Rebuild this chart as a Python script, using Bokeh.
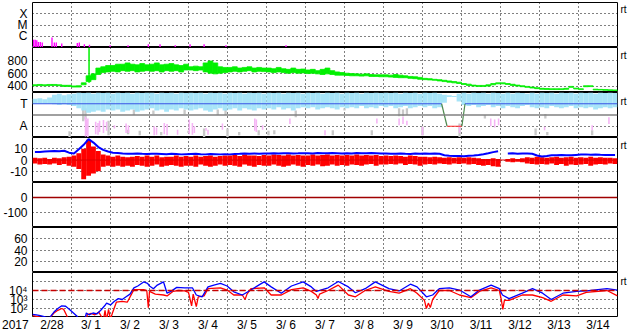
import math
from bokeh.plotting import figure
from bokeh.layouts import column
from bokeh.models import FixedTicker, LinearAxis, Span, Range1d, Grid
from bokeh.core.properties import value
from bokeh.embed import file_html
from bokeh.resources import INLINE

FONT = "Liberation Sans"
NAN = float("nan")

# ---------------- time axis ----------------
day_lines = list(range(1, 15))
date_ticks = [i + 0.5 for i in range(15)]
date_labels = ["2/28", "3/ 1", "3/ 2", "3/ 3", "3/ 4", "3/ 5", "3/ 6", "3/ 7",
               "3/ 8", "3/ 9", "3/10", "3/11", "3/12", "3/13", "3/14"]
year_label = "2017"
year_pos = -0.44
BIN = 0.125  # 3-hour bins
bins = [(i + 0.5) * BIN for i in range(120)]

# ---------------- panel 1: X-ray flux (log10 W/m2) ----------------
xray_levels = [-4, -5, -6]
xray_names = ["X", "M", "C"]
xray = [(0.03, -6.3), (0.07, -6.3), (0.11, -6.35), (0.15, -6.5), (0.2, -6.5), (0.25, -6.55),
        (0.5, -6.1), (0.56, -6.55), (0.61, -6.55), (0.75, -6.65), (1.15, -6.6), (1.2, -6.55),
        (1.33, -6.7), (1.46, -6.75), (1.99, -6.8), (2.45, -6.8), (2.97, -6.7), (3.27, -6.7),
        (3.66, -6.8), (4.04, -6.7), (4.4, -6.7), (4.96, -6.8), (6.5, -6.8)]

# ---------------- panel 2: solar wind speed (km/s), 3-h min / max ----------------
speed_lo = [405, 410, 405, 408, 410, 405, 395, 395,
            385, 385, 420, 470, 500, 580, 610, 620,
            630, 620, 640, 630, 640, 620, 630, 640,
            630, 640, 620, 640, 630, 640, 620, 650,
            650, 640, 650, 620, 600, 590, 600, 610,
            620, 630, 620, 630, 640, 620, 630, 625,
            620, 610, 620, 610, 600, 610, 600, 605,
            595, 600, 590, 580, 590, 580, 570, 570,
            565, 560, 560, 555, 560, 550, 550, 545,
            545, 540, 535, 530, 530, 520, 515, 505,
            500, 495, 490, 480, 470, 460, 450, 440,
            425, 410, 400, 395, 395, 400, 420, 435,
            435, 425, 410, 400, 390, 380, 370, 360,
            350, 348, 345, 345, 345, 350, 380, 355,
            345, 390, 392, 340, 338, 335, 332, 330]
speed_hi = [420, 425, 420, 425, 425, 420, 412, 412,
            402, 405, 450, 560, 590, 680, 700, 720,
            720, 740, 740, 760, 740, 730, 750, 730,
            740, 760, 730, 740, 750, 730, 720, 740,
            700, 710, 700, 760, 790, 760, 700, 690,
            690, 700, 680, 690, 700, 680, 690, 680,
            680, 670, 690, 670, 660, 680, 660, 665,
            650, 660, 640, 660, 680, 640, 620, 610,
            600, 595, 590, 585, 590, 580, 575, 575,
            575, 570, 580, 570, 560, 550, 545, 535,
            520, 515, 505, 500, 490, 480, 470, 460,
            440, 430, 415, 410, 410, 420, 440, 450,
            450, 440, 428, 415, 405, 395, 385, 375,
            365, 362, 358, 358, 358, 365, 395, 368,
            358, 405, 405, 352, 348, 345, 342, 340]
speed_spike_day = [1.45]
speed_spike_lo = [450]
speed_spike_hi = [1000]
speed_levels = [800, 600, 400]
speed_label_pos = [800, 600, 415]

# ---------------- panel 3: T / A indices (panel units 0..4) ----------------
ta_levels = [3, 1]
ta_names = ["T", "A"]
cloud_lo = [3.0, 3.0, 3.0, 3.0, 2.95, 2.9, 2.95, 2.9,
            2.8, 2.6, 2.4, 2.2, 2.3, 2.4, 2.3, 2.5,
            2.4, 2.5, 2.3, 2.4, 2.5, 2.3, 2.4, 2.5,
            2.6, 2.4, 2.5, 2.3, 2.5, 2.4, 2.6, 2.5,
            2.4, 2.5, 2.6, 2.4, 2.3, 2.5, 2.6, 2.4,
            2.5, 2.6, 2.4, 2.6, 2.5, 2.4, 2.6, 2.5,
            2.6, 2.5, 2.7, 2.5, 2.6, 2.4, 2.6, 2.7,
            2.6, 2.7, 2.5, 2.6, 2.7, 2.6, 2.5, 2.7,
            2.6, 2.7, 2.6, 2.8, 2.6, 2.7, 2.6, 2.8,
            2.7, 2.8, 2.6, 2.7, 2.8, 2.6, 2.7, 2.8,
            2.7, 2.8, 2.6, 2.7, 3.1, 3.6, 3.6, 3.2,
            2.9, 2.8, 2.9, 2.7, 2.8, 2.9, 2.7, 2.8,
            2.6, 2.8, 2.7, 2.6, 2.8, 2.9, 2.7, 2.6,
            2.7, 2.6, 2.8, 2.7, 2.6, 2.7, 2.8, 2.6,
            2.7, 2.6, 2.7, 2.5, 2.6, 2.7, 2.6, 2.7]
cloud_hi = [3.45, 3.5, 3.4, 3.55, 3.8, 3.9, 3.75, 3.85,
            3.9, 4.0, 3.95, 4.0, 3.9, 4.0, 3.95, 4.0,
            3.9, 4.0, 3.95, 4.0, 3.9, 4.0, 3.95, 4.0,
            4.0, 3.9, 4.0, 3.95, 4.0, 3.9, 4.0, 3.95,
            4.0, 3.95, 4.0, 3.9, 4.0, 3.95, 4.0, 3.9,
            4.0, 3.95, 4.0, 3.9, 4.0, 3.95, 4.0, 3.9,
            4.0, 3.95, 4.0, 3.9, 4.0, 3.95, 4.0, 3.9,
            4.0, 3.95, 4.0, 3.9, 4.0, 3.95, 4.0, 3.9,
            4.0, 3.95, 4.0, 3.9, 4.0, 3.95, 4.0, 3.95,
            4.0, 3.95, 4.0, 3.9, 4.0, 3.95, 4.0, 3.9,
            4.0, 3.95, 4.0, 3.9, 3.8, 3.75, 3.7, 3.9,
            4.0, 3.9, 4.0, 3.95, 4.0, 3.9, 4.0, 3.95,
            3.9, 4.0, 3.9, 4.0, 3.95, 3.9, 4.0, 3.9,
            4.0, 3.95, 4.0, 3.9, 4.0, 3.95, 4.0, 3.9,
            4.0, 3.95, 4.0, 3.9, 4.0, 3.95, 4.0, 3.95]
gray_streaks = [(0.95, 0.0, 0.55), (1.3, 1.45, 2.8), (1.36, 1.6, 2.6), (1.95, 0.2, 1.5),
                (2.45, 0.3, 0.7), (2.6, 2.0, 2.5), (2.75, 0.2, 0.6), (3.1, 2.1, 2.4),
                (3.3, 0.2, 0.5), (3.9, 2.1, 2.5), (4.0, 0.4, 0.6), (4.4, 0.0, 0.8),
                (4.75, 2.0, 2.5), (4.95, 2.0, 2.6), (5.0, 0.05, 0.8), (5.3, 0.2, 0.5),
                (5.8, 0.2, 0.65), (6.05, 0.2, 0.6), (6.2, 0.3, 0.65), (6.75, 1.8, 2.4),
                (7.7, 0.2, 0.65), (8.0, 2.4, 2.6), (8.7, 0.2, 0.65), (9.4, 1.9, 2.6),
                (9.5, 1.9, 2.5), (9.6, 2.0, 2.6), (10.0, 0.2, 0.95), (10.95, 0.05, 1.25),
                (11.6, 1.7, 2.0), (12.9, 0.2, 0.8), (13.15, 1.7, 2.1), (13.2, 0.2, 0.5),
                (14.35, 0.2, 0.65)]
pink_streaks = [(1.36, 0.1, 1.85), (1.39, 0.2, 1.6), (1.42, 0.05, 1.7), (1.62, 0.3, 1.4),
                (1.68, 0.25, 1.3), (1.72, 0.5, 1.5), (1.82, 0.4, 1.55), (1.9, 0.6, 1.4),
                (2.1, 0.8, 1.1), (2.4, 0.4, 1.25), (2.46, 0.4, 1.1), (3.12, 0.2, 1.0),
                (3.18, 0.25, 0.9), (3.38, 0.3, 1.3), (3.45, 0.2, 1.2), (3.72, 0.25, 0.7),
                (4.02, 0.3, 1.6), (4.1, 0.25, 1.3), (4.15, 0.4, 1.0), (4.45, 0.6, 0.85),
                (4.5, 0.25, 0.7), (4.87, 0.7, 1.25), (5.7, 0.6, 1.7), (5.74, 0.5, 1.6),
                (5.9, 0.7, 1.1), (6.6, 1.2, 1.7), (7.5, 0.2, 0.65), (8.83, 1.25, 1.7),
                (9.4, 1.1, 1.7), (9.5, 1.2, 1.85), (9.6, 1.1, 1.5), (10.0, 0.2, 0.95),
                (10.95, 0.4, 1.1), (11.75, 1.0, 1.7), (11.85, 0.9, 1.6), (11.95, 1.1, 1.7),
                (13.13, 0.65, 0.95), (14.35, 0.65, 1.1), (14.78, 1.2, 1.8)]
status_day = [0, 10.49, 10.63, 11.01, 11.09, 15]
status_level = [3, 3, 1, 1, 3, 3]
status_color = ["#3a55e6", "#4f8a4f", "#ff2a2a", "#4f8a4f", "#3a55e6"]
ta_mid_level = 2

# ---------------- panel 4: IMF Bt / Bz (nT) ----------------
imf_levels = [10, 0, -10]
bz_lo = [-3, -4, -3.5, -4, -3, -4.5, -3.5, -5,
         -6, -8, -17, -14, -12, -10, -6, -5,
         -6, -5, -6, -5, -6, -4.5, -5, -6,
         -5, -4, -6, -5, -4.5, -5, -6, -5,
         -5, -6, -4, -5, -6, -5, -4, -5,
         -4.5, -5, -6, -4, -5, -6, -4.5, -5,
         -5, -4, -5, -6, -5, -4, -5, -6,
         -4.5, -5, -4, -5.5, -5, -4, -5, -4.5,
         -5, -4, -4.5, -5, -4, -3.5, -5, -4,
         -4, -3.5, -4, -3, -4.5, -3.5, -4, -5,
         -4, -3.5, -4, -3, -3.5, -4, -3, -3.5,
         -3, -4, -3.5, -4.5, -5, -4.5, -5.5, -6,
         NAN, -1.5, -2, -1.5, -2, -3, -3.5, -4,
         -3.5, -4, -3, -4.5, -3.5, -5, -4, -4.5,
         -4, -3.5, -5, -4, -3.5, -4, -3, -3.5]
bz_hi = [2, 1.5, 2, 1, 2, 1.5, 2.5, 3,
         4, 6, 10, 18, 12, 8, 5, 4,
         3, 4, 3, 2.5, 3, 3.5, 3, 4,
         3, 4, 2.5, 3, 3, 4, 3, 3.5,
         3, 4, 3, 3.5, 4, 3, 3.5, 4,
         4, 4.5, 3.5, 5, 4, 4, 3.5, 4.5,
         4, 5, 4.5, 4, 5, 4, 4.5, 4,
         4, 5, 4, 4.5, 5, 4, 4.5, 4,
         4.5, 4, 5, 4, 4.5, 4, 4.5, 3.5,
         4, 3.5, 4, 3.5, 3, 4, 3.5, 3,
         3, 2.5, 3, 2.5, 2, 2.5, 2, 2.5,
         2, 2.5, 2, 1.5, 1, 1, 1.5, 1,
         NAN, 1, 1.5, 1, 1.5, 2.5, 2, 3,
         2.5, 2, 2.5, 3, 2, 2.5, 3, 2,
         2.5, 2, 3, 2, 2.5, 2, 2, 1.5]
bt = [7.2, 7.2, 7.5, 7.8, 8.0, 7.8, 8.2, 6.5,
      5.8, 9.5, 13.5, 18.5, 15.5, 11.5, 9.0, 7.5,
      6.5, 6.2, 5.8, 5.6, 5.5, 5.8, 5.5, 5.4,
      5.5, 5.6, 5.4, 5.2, 5.5, 5.3, 5.0, 5.2,
      5.4, 5.5, 5.2, 5.0, 5.3, 5.2, 5.0, 5.2,
      5.0, 5.4, 5.5, 5.8, 5.6, 5.8, 5.5, 5.8,
      5.8, 6.0, 5.7, 5.9, 6.0, 5.8, 5.9, 6.1,
      6.0, 5.8, 6.2, 6.0, 5.9, 6.2, 6.0, 5.8,
      6.0, 5.8, 6.2, 6.0, 5.9, 6.2, 6.0, 5.8,
      5.8, 5.5, 5.6, 5.8, 5.5, 5.4, 5.8, 5.5,
      5.8, 5.6, 5.8, 5.5, 4.2, 3.8, 3.5, 3.6,
      3.4, 3.8, 4.0, 4.5, 5.2, 6.0, 7.0, 7.8,
      NAN, 5.8, 5.9, 5.6, 5.8, 5.7, 5.5, 4.0,
      3.2, 3.5, 4.3, 4.2, 4.4, 4.3, 4.2, 4.5,
      4.8, 5.0, 4.7, 4.8, 4.6, 4.5, 4.4, 4.5]

# ---------------- panel 5: Dst (nT) ----------------
dst_levels = [0, -100]
dst_day = [0, 15]
dst = [0, 0]

# ---------------- panel 6: empty index panel ----------------
idx_levels = [60, 40, 20]

# ---------------- panel 7: electron flux (log10) ----------------
e_levels = [4, 3, 2]
e_names = ["10\u2074", "10\u00b3", "10\u00b2"]
e_grid = [2, 3, 4, 5]
e_threshold = 4
e_blue = [(0.0, 1.35), (0.1, 1.3), (0.2, 1.2), (0.3, 1.1), (0.37, 1.0), (0.45, 1.05), (0.55, 1.6),
          (0.65, 2.0), (0.75, 2.3), (0.85, 2.25), (0.95, 1.9), (1.05, 1.5), (1.15, 1.1), (1.2, 0.5),
          (1.33, 0.5), (1.38, 1.5), (1.45, 1.3), (1.55, 1.5), (1.65, 1.4), (1.75, 1.8), (1.85, 2.3),
          (1.9, 2.6), (2.0, 2.4), (2.1, 2.8), (2.2, 3.1), (2.3, 3.0), (2.4, 3.3), (2.5, 3.6),
          (2.6, 4.3), (2.7, 4.5), (2.85, 4.95), (2.95, 4.8), (3.0, 4.5), (3.1, 4.2), (3.2, 4.6),
          (3.36, 4.95), (3.45, 3.7), (3.55, 3.9), (3.7, 4.35), (3.9, 4.3), (4.1, 4.3), (4.2, 3.5),
          (4.35, 3.3), (4.5, 4.4), (4.65, 4.6), (4.82, 4.78), (4.99, 4.5), (5.16, 3.85), (5.38, 3.5),
          (5.6, 4.05), (5.8, 4.6), (5.94, 4.96), (6.12, 4.4), (6.38, 3.7), (6.64, 4.5), (6.94, 4.96),
          (7.15, 4.4), (7.28, 3.9), (7.58, 4.3), (7.84, 5.0), (8.1, 4.4), (8.28, 3.75), (8.53, 4.2),
          (8.79, 4.96), (9.14, 4.2), (9.4, 3.95), (9.69, 4.7), (9.86, 4.4), (10.1, 3.3), (10.26, 3.5),
          (10.43, 4.2), (10.69, 4.3), (10.95, 4.05), (11.24, 3.3), (11.46, 4.05), (11.76, 4.6),
          (11.97, 4.2), (12.05, 3.5), (12.22, 3.1), (12.56, 3.7), (12.82, 4.2), (13.08, 3.7),
          (13.3, 3.0), (13.6, 3.7), (13.95, 3.9), (14.2, 3.95), (14.73, 4.2), (15.0, 4.05)]
e_red = [(0.0, 1.2), (0.2, 1.05), (0.35, 0.8), (0.45, 1.0), (0.55, 1.5), (0.65, 1.8), (0.75, 2.0),
         (0.8, 1.9), (0.88, 1.2), (0.92, 0.5), (1.38, 0.5), (1.4, 1.3), (1.5, 1.45), (1.6, 1.3),
         (1.7, 1.6), (1.78, 1.0), (1.82, 0.7), (1.86, 1.8), (1.9, 0.7), (1.95, 1.9), (2.0, 0.8),
         (2.05, 1.5), (2.15, 2.7), (2.3, 2.8), (2.43, 2.7), (2.6, 4.1), (2.85, 4.1), (2.93, 4.0),
         (2.97, 2.1), (3.0, 3.9), (3.15, 3.6), (3.36, 3.5), (3.45, 3.4), (3.6, 3.9), (3.75, 4.0),
         (3.9, 3.95), (4.0, 3.8), (4.08, 2.3), (4.12, 3.6), (4.2, 2.2), (4.25, 3.3), (4.4, 3.4),
         (4.5, 4.2), (4.82, 4.3), (4.99, 4.05), (5.16, 3.5), (5.38, 3.5), (5.45, 3.0), (5.5, 3.6),
         (5.6, 4.2), (5.94, 4.3), (6.12, 3.5), (6.38, 3.5), (6.64, 4.1), (6.94, 4.3), (7.15, 3.9),
         (7.28, 3.5), (7.32, 3.1), (7.36, 3.6), (7.58, 4.0), (7.84, 4.6), (8.1, 3.5), (8.28, 3.3),
         (8.53, 4.0), (8.79, 4.4), (9.14, 3.9), (9.4, 3.7), (9.69, 4.2), (9.86, 3.7), (10.05, 2.9),
         (10.1, 2.0), (10.15, 2.6), (10.2, 2.1), (10.26, 3.0), (10.43, 4.0), (10.69, 4.0),
         (10.95, 3.5), (11.24, 3.2), (11.46, 3.9), (11.76, 4.3), (11.97, 4.0), (12.02, 3.0),
         (12.06, 1.9), (12.1, 2.9), (12.22, 2.9), (12.56, 3.5), (12.82, 3.5), (13.08, 3.2),
         (13.3, 2.8), (13.6, 3.5), (13.95, 3.4), (14.2, 3.8), (14.73, 4.0), (15.0, 3.4)]


# ---------------- helpers ----------------
def panel(y0, y1, height, grid_y, top=0, bottom=0):
    p = figure(width=633, height=height, x_range=Range1d(0, 15), y_range=Range1d(y0, y1),
               x_axis_location=None, y_axis_location=None, toolbar_location=None,
               output_backend="svg", min_border_left=32, min_border_right=16,
               min_border_top=top, min_border_bottom=bottom)
    p.grid.visible = False
    p.outline_line_color = "black"
    p.outline_line_width = 1
    p.background_fill_color = "white"
    p.border_fill_color = "white"
    p.add_layout(Grid(dimension=0, ticker=FixedTicker(ticks=day_lines), grid_line_color="black",
                      grid_line_dash="1 3", grid_line_width=1), "center")
    if grid_y:
        p.add_layout(Grid(dimension=1, ticker=FixedTicker(ticks=list(grid_y)), grid_line_color="black",
                          grid_line_dash="1 3", grid_line_width=1), "center")
    return p


def left_labels(p, ticks, labels):
    ax = LinearAxis(ticker=FixedTicker(ticks=list(ticks)),
                    major_label_overrides={t: l for t, l in zip(ticks, labels)},
                    axis_line_color=None, major_tick_line_color=None, minor_tick_line_color=None,
                    major_tick_in=0, major_tick_out=0,
                    major_label_text_font=FONT, major_label_text_font_size="12px",
                    major_label_text_color="black", major_label_standoff=5)
    p.add_layout(ax, "left")


def rt_mark(p, pos):
    ax = LinearAxis(ticker=FixedTicker(ticks=[pos]), major_label_overrides={pos: "rt"},
                    axis_line_color=None, major_tick_line_color=None, minor_tick_line_color=None,
                    major_tick_in=0, major_tick_out=0,
                    major_label_text_font=FONT, major_label_text_font_size="10px",
                    major_label_text_color="black", major_label_standoff=3)
    p.add_layout(ax, "right")


# ---------------- panel 1 ----------------
p1 = panel(-7, -3, 47, xray_levels, top=2)
left_labels(p1, xray_levels, xray_names)
rt_mark(p1, -3.62)
p1.vbar(x=[d for d, v in xray], top=[v for d, v in xray], bottom=-7.2, width=0.035,
        fill_color="#ff00ff", line_color=None)

# ---------------- panel 2 ----------------
p2 = panel(300, 1000, 45, speed_levels)
left_labels(p2, speed_label_pos, [str(v) for v in speed_levels])
rt_mark(p2, 880)
p2.vbar(x=bins, bottom=speed_lo, top=speed_hi, width=BIN, fill_color="#00f000",
        line_color="#00f000", line_width=0.8)
p2.segment(x0=speed_spike_day, y0=speed_spike_lo, x1=speed_spike_day, y1=speed_spike_hi,
           line_color="#00f000", line_width=1.5)

# ---------------- panel 3 ----------------
p3 = panel(0, 4, 45, [1])
left_labels(p3, ta_levels, ta_names)
rt_mark(p3, 3.23)
p3.vbar(x=[s[0] for s in gray_streaks], bottom=[s[1] for s in gray_streaks],
        top=[s[2] for s in gray_streaks], width=0.06, fill_color="#c8c8c8", line_color=None)
p3.vbar(x=bins, bottom=cloud_lo, top=cloud_hi, width=BIN, fill_color="#a2e3f8",
        fill_alpha=0.95, line_color=None)
p3.vbar(x=[s[0] for s in pink_streaks], bottom=[s[1] for s in pink_streaks],
        top=[s[2] for s in pink_streaks], width=0.04, fill_color="#f5b4f5", line_color=None)
p3.add_layout(Span(location=ta_mid_level, dimension="width", line_color="#808080", line_width=1.5))
p3.segment(x0=status_day[:-1], y0=status_level[:-1], x1=status_day[1:], y1=status_level[1:],
           line_color=status_color, line_width=1.2)

# ---------------- panel 4 ----------------
p4 = panel(-20, 20, 45, imf_levels)
left_labels(p4, imf_levels, [str(v) for v in imf_levels])
rt_mark(p4, 12.5)
p4.vbar(x=bins, bottom=bz_lo, top=bz_hi, width=BIN, fill_color="#ff0000", line_color=None)
p4.add_layout(Span(location=0, dimension="width", line_color="#dd0000", line_width=1))
p4.line(x=bins, y=bt, line_color="#0000ff", line_width=2)

# ---------------- panel 5 ----------------
p5 = panel(-200, 100, 45, [-100])
left_labels(p5, dst_levels, [str(v) for v in dst_levels])
p5.line(x=dst_day, y=dst, line_color="#a00000", line_width=1.5)

# ---------------- panel 6 ----------------
p6 = panel(0, 80, 45, idx_levels)
left_labels(p6, idx_levels, [str(v) for v in idx_levels])

# ---------------- panel 7 ----------------
p7 = panel(1, 6, 45, e_grid)
left_labels(p7, e_levels, e_names)
rt_mark(p7, 5.03)
p7.add_layout(Span(location=e_threshold, dimension="width", line_color="#c80000",
                   line_width=1.5, line_dash="6 3"))
p7.line(x=[d for d, v in e_red], y=[v for d, v in e_red], line_color="#ff0000", line_width=1.3)
p7.line(x=[d for d, v in e_blue], y=[v for d, v in e_blue], line_color="#0000ff", line_width=1.3)

# ---------------- date strip: same 39 px/day scale, frame spans the whole strip ----------------
p8 = figure(width=617, height=17, x_range=Range1d(-32 / 39, 15), y_range=Range1d(0, 1),
            x_axis_location=None, y_axis_location=None, toolbar_location=None,
            output_backend="svg", min_border_left=0, min_border_right=0,
            min_border_top=0, min_border_bottom=0)
p8.grid.visible = False
p8.outline_line_color = None
p8.background_fill_color = "white"
p8.border_fill_color = "white"
p8.text(x=date_ticks + [year_pos], y=[0.56] * (len(date_ticks) + 1), text=date_labels + [year_label],
        text_font=value(FONT), text_font_size="12px", text_align="center",
        text_baseline="middle", text_color="black")

panels = column(p1, p2, p3, p4, p5, p6, p7, spacing=0)
layout = column(panels, p8, spacing=0)
open("out.html", "w").write(file_html(layout, INLINE))
